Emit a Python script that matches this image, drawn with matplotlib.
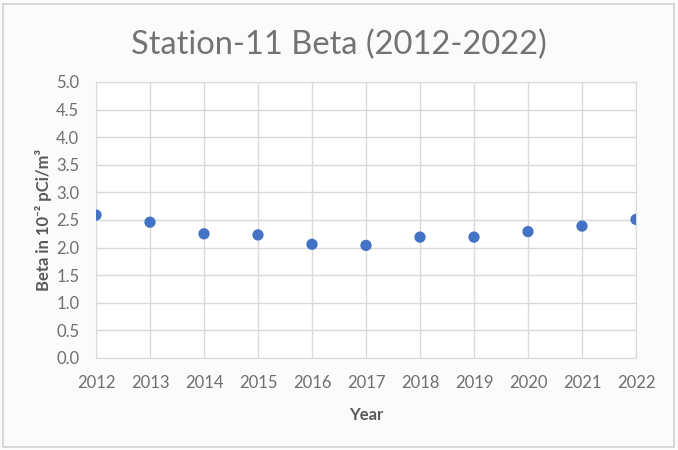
import matplotlib.pyplot as plt
from matplotlib.patches import Rectangle

years = [2012, 2013, 2014, 2015, 2016, 2017, 2018, 2019, 2020, 2021, 2022]
beta = [2.59, 2.46, 2.25, 2.23, 2.06, 2.04, 2.19, 2.19, 2.29, 2.39, 2.51]
y_ticks = [0.0, 0.5, 1.0, 1.5, 2.0, 2.5, 3.0, 3.5, 4.0, 4.5, 5.0]

plt.rcParams['font.family'] = ['Lato', 'DejaVu Sans']
text_color = '#6f6f6f'

fig = plt.figure(figsize=(6.78, 4.5), dpi=100)
fig.patch.set_facecolor('#fbfbfb')
ax = fig.add_axes([96 / 678, 1 - 358 / 450, 540 / 678, 276 / 450])
ax.set_facecolor('white')

# point markers on the year positions
x = list(range(len(years)))
ax.scatter(x, beta, s=66, color='#4472C4', zorder=3, edgecolors='none')

ax.set_xlim(0, len(years) - 1)
ax.set_ylim(0, 5)
ax.set_xticks(x)
ax.set_xticklabels([str(y) for y in years])
ax.set_yticks(y_ticks)
ax.set_yticklabels([f'{v:.1f}' for v in y_ticks])
ax.tick_params(axis='x', length=0, labelsize=12, labelcolor=text_color, pad=12)
ax.tick_params(axis='y', length=0, labelsize=12, labelcolor=text_color, pad=12)
ax.grid(True, color='#d9d9d9', linewidth=1)
ax.set_axisbelow(True)
for s in ax.spines.values():
    s.set_color('#d9d9d9')

ax.set_xlabel('Year', fontsize=12, fontweight='bold', color='#595959', labelpad=12)
ax.set_ylabel('Beta in 10⁻² pCi/m³', fontsize=12, fontweight='bold',
              color='#595959', labelpad=3)

fig.text(0.5, 1 - 45 / 450, 'Station-11 Beta (2012-2022)', ha='center', va='center',
         fontsize=23.5, color='#737373')

# outer chart border
fig.patches.append(Rectangle((0.004, 0.006), 0.99, 0.985, transform=fig.transFigure,
                             fill=False, edgecolor='#d0d0d0', linewidth=1.2))

fig.savefig('out.png', dpi=100, facecolor=fig.get_facecolor())
